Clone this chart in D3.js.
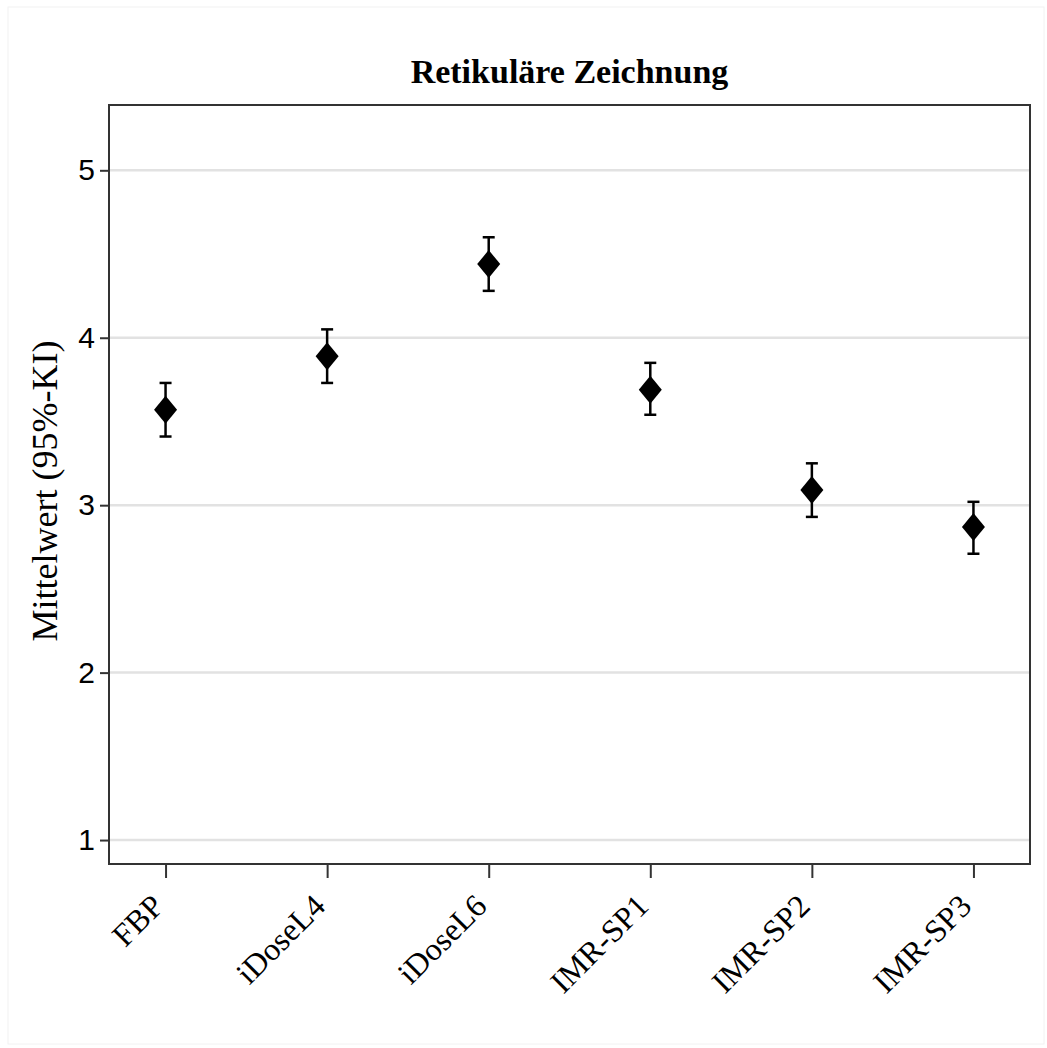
<!DOCTYPE html>
<html lang="de">
<head>
<meta charset="UTF-8">
<script src="https://d3js.org/d3.v7.min.js"></script>
<title>Retikuläre Zeichnung</title>
<style>
  body { margin: 0; background: #fff; }
  .grid line { stroke: #e2e2e2; stroke-width: 2.5px; }
  .frame { fill: none; stroke: #333; stroke-width: 2px; }
  .ebar { stroke: #000; stroke-width: 2.5px; fill: none; }
  .serif { font-family: "Liberation Serif", "Times New Roman", serif; fill: #000; }
</style>
</head>
<body>
<svg id="chart" width="1047" height="1048"></svg>
<script>
// values
var groups = ["FBP", "iDoseL4", "iDoseL6", "IMR-SP1", "IMR-SP2", "IMR-SP3"];
var means  = [3.57, 3.89, 4.44, 3.69, 3.09, 2.87];
var lower  = [3.41, 3.73, 4.28, 3.54, 2.93, 2.71];
var upper  = [3.73, 4.05, 4.60, 3.85, 3.25, 3.02];
var yTicks = [1, 2, 3, 4, 5];

var svg = d3.select("#chart");

// faint outer border
svg.append("rect")
  .attr("x", 8).attr("y", 7).attr("width", 1036).attr("height", 1037)
  .attr("fill", "none").attr("stroke", "#f2f2f2").attr("stroke-width", 1);

var pL = 109, pT = 105, pR = 1030, pB = 864;

var x = d3.scalePoint().domain(groups).range([pL, pR]).padding(0.35);
var y = d3.scaleLinear().domain([0.857, 5.39]).range([pB, pT]);

// gridlines
svg.append("g").attr("class", "grid")
  .selectAll("line").data(yTicks).join("line")
  .attr("x1", pL).attr("x2", pR)
  .attr("y1", d => y(d)).attr("y2", d => y(d));

// y axis
var yAxis = d3.axisLeft(y).tickValues(yTicks).tickFormat(d3.format("d")).tickSize(9).tickPadding(5);
var gy = svg.append("g").attr("transform", "translate(" + pL + ",0)").call(yAxis);
gy.select(".domain").remove();
gy.selectAll(".tick line").attr("stroke", "#333").attr("stroke-width", 2);
gy.selectAll(".tick text")
  .attr("font-family", "'Liberation Sans', Arial, sans-serif")
  .attr("font-size", 30).attr("fill", "#000");

// x axis
var xAxis = d3.axisBottom(x).tickSize(14).tickFormat("");
var gx = svg.append("g").attr("transform", "translate(0," + pB + ")").call(xAxis);
gx.select(".domain").remove();
gx.selectAll(".tick line").attr("stroke", "#333").attr("stroke-width", 2);

svg.append("g").selectAll("text").data(groups).join("text")
  .attr("class", "serif")
  .attr("font-size", 32)
  .attr("text-anchor", "end")
  .attr("transform", d => "translate(" + (x(d) - 8) + "," + (pB + 36) + ") rotate(-45)")
  .attr("dy", "0.35em")
  .text(d => d);

// frame
svg.append("rect").attr("class", "frame")
  .attr("x", pL).attr("y", pT)
  .attr("width", pR - pL).attr("height", pB - pT);

// error bars
var cap = 6;
var eb = svg.append("g").attr("class", "ebar");
groups.forEach(function(g, i) {
  var cx = x(g);
  eb.append("line").attr("x1", cx).attr("x2", cx).attr("y1", y(lower[i])).attr("y2", y(upper[i]));
  eb.append("line").attr("x1", cx - cap).attr("x2", cx + cap).attr("y1", y(lower[i])).attr("y2", y(lower[i]));
  eb.append("line").attr("x1", cx - cap).attr("x2", cx + cap).attr("y1", y(upper[i])).attr("y2", y(upper[i]));
});

// diamonds
var hw = 11.5, hh = 14;
svg.append("g").selectAll("path").data(groups).join("path")
  .attr("d", function(g, i) {
    var cx = x(g), cy = y(means[i]);
    return "M" + cx + "," + (cy - hh) + "L" + (cx + hw) + "," + cy +
           "L" + cx + "," + (cy + hh) + "L" + (cx - hw) + "," + cy + "Z";
  })
  .attr("fill", "#000");

// title
svg.append("text").attr("class", "serif")
  .attr("x", (pL + pR) / 2).attr("y", 83)
  .attr("text-anchor", "middle")
  .attr("font-size", 34).attr("font-weight", "bold")
  .text("Retikuläre Zeichnung");

// y label
svg.append("text").attr("class", "serif")
  .attr("transform", "translate(57,491) rotate(-90)")
  .attr("text-anchor", "middle")
  .attr("font-size", 36)
  .text("Mittelwert (95%-KI)");
</script>
</body>
</html>
